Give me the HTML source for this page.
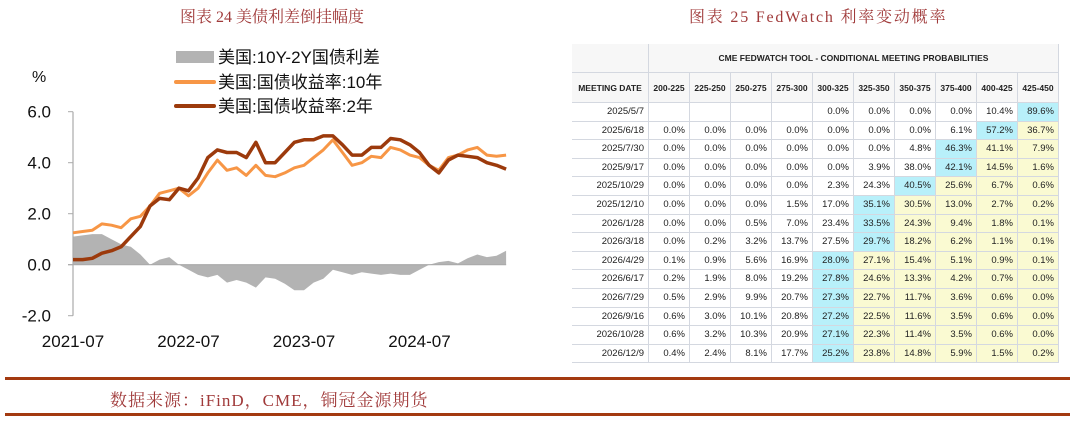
<!DOCTYPE html>
<html><head><meta charset="utf-8"><style>
body{margin:0;width:1076px;height:423px;background:#fff;position:relative;overflow:hidden;font-family:"Liberation Sans","Noto Sans CJK SC",sans-serif}
.title{position:absolute;top:4px;font-family:"Liberation Serif","Noto Serif CJK SC",serif;font-size:16px;color:#a03a3a;white-space:nowrap}
#tbl{position:absolute;left:572px;top:44px}
.c{position:absolute;box-sizing:border-box;border-right:1px solid #d4d8e0;border-bottom:1px solid #d4d8e0;font-size:9.5px;color:#222;text-align:right;padding-right:4px;line-height:18px;white-space:nowrap}
.h{font-weight:bold;font-size:8.5px;text-align:center;padding:0}
.rule{position:absolute;left:5px;width:1065px;height:3px;background:#a33a10}
.src{position:absolute;left:110px;top:386px;font-family:"Liberation Serif","Noto Serif CJK SC",serif;font-size:17px;letter-spacing:1px;color:#a03a3a;white-space:nowrap}
</style></head><body>
<div class="title" style="left:180px">图表 24 美债利差倒挂幅度</div>
<div class="title" style="left:689px;letter-spacing:1.8px">图表 25 FedWatch 利率变动概率</div>
<svg id="chart" width="545" height="370" style="position:absolute;left:0;top:0"></svg>
<div id="tbl"></div>
<div class="rule" style="top:377px"></div>
<div class="src">数据来源：iFinD，CME，铜冠金源期货</div>
<div class="rule" style="top:413px"></div>
<script>
const months=["2021-07","2021-08","2021-09","2021-10","2021-11","2021-12","2022-01","2022-02","2022-03","2022-04","2022-05","2022-06","2022-07","2022-08","2022-09","2022-10","2022-11","2022-12","2023-01","2023-02","2023-03","2023-04","2023-05","2023-06","2023-07","2023-08","2023-09","2023-10","2023-11","2023-12","2024-01","2024-02","2024-03","2024-04","2024-05","2024-06","2024-07","2024-08","2024-09","2024-10","2024-11","2024-12","2025-01","2025-02","2025-03","2025-04"];
const y10=[1.25,1.3,1.35,1.6,1.55,1.45,1.8,1.9,2.3,2.8,2.9,3.0,2.7,3.0,3.6,4.1,3.7,3.8,3.5,3.9,3.5,3.45,3.6,3.8,3.9,4.2,4.5,4.9,4.4,3.9,4.0,4.25,4.2,4.6,4.5,4.3,4.2,3.9,3.7,4.2,4.3,4.5,4.6,4.3,4.25,4.3];
const y2=[0.2,0.2,0.25,0.45,0.55,0.7,1.1,1.5,2.3,2.6,2.55,3.0,2.9,3.4,4.2,4.5,4.4,4.4,4.2,4.8,4.0,4.0,4.4,4.8,4.9,4.9,5.05,5.05,4.7,4.3,4.3,4.6,4.6,4.95,4.9,4.7,4.4,3.9,3.6,4.1,4.3,4.25,4.2,4.0,3.9,3.75];
const spread=[1.1,1.15,1.2,1.2,1.0,0.8,0.7,0.4,0.0,0.2,0.3,0.0,-0.2,-0.4,-0.5,-0.4,-0.7,-0.6,-0.7,-0.9,-0.5,-0.55,-0.75,-1.0,-1.0,-0.7,-0.55,-0.2,-0.3,-0.4,-0.3,-0.35,-0.4,-0.35,-0.4,-0.4,-0.2,0.0,0.1,0.15,0.05,0.25,0.4,0.3,0.35,0.55];
const yTicks=[6,4,2,0,-2];
const xLabels=["2021-07","2022-07","2023-07","2024-07"];
const NS="http://www.w3.org/2000/svg";
const svg=document.getElementById('chart');
const X0=73,XW=115.5/12;
const xs=i=>X0+i*XW;
const ys=v=>264.7-v*25.5;
function el(t,a){const e=document.createElementNS(NS,t);for(const k in a)e.setAttribute(k,a[k]);svg.appendChild(e);return e;}
let d=`M${xs(0)},${ys(0)}`;spread.forEach((v,i)=>d+=`L${xs(i).toFixed(1)},${ys(v).toFixed(1)}`);d+=`L${xs(spread.length-1)},${ys(0)}Z`;
const area=el('path',{d,fill:'#b3b3b3'});


const ax=el('path',{d:`M${X0},${ys(6)}V${ys(-2)}M${X0-5},${ys(0)}H${xs(spread.length-1)}`,stroke:'#aaa','stroke-width':1.2,fill:'none'});


yTicks.forEach(v=>{
 el('line',{x1:X0-5,x2:X0,y1:ys(v),y2:ys(v),stroke:'#aaa'});
 const t=el('text',{x:X0-22,y:ys(v)+6,'font-size':17,'text-anchor':'end',fill:'#111'});t.textContent=v.toFixed(1);
 
 
});
xLabels.forEach(l=>{
 const i=months.indexOf(l);
 const t=el('text',{x:xs(i),y:347,'font-size':17,'text-anchor':'middle',fill:'#111'});t.textContent=l;
 
 
});
const pct=el('text',{x:32,y:82,'font-size':16,fill:'#111'});pct.textContent='%';


function line(arr,c,w,name){
 const p=el('polyline',{points:arr.map((v,i)=>xs(i).toFixed(1)+','+ys(v).toFixed(1)).join(' '),fill:'none',stroke:c,'stroke-width':w,'stroke-linejoin':'round'});
 
 
}
line(y10,'#f79646',3,'yield-10y-line');
line(y2,'#9c3a0c',3.5,'yield-2y-line');
const lg=[['rect','#b3b3b3','美国:10Y-2Y国债利差',57],['line','#f79646','美国:国债收益率:10年',82],['line','#9c3a0c','美国:国债收益率:2年',106]];
lg.forEach(([k,c,txt,y])=>{
 if(k==='rect')el('rect',{x:176,y:y-6,width:38,height:12,fill:c});
 else el('line',{x1:176,x2:214,y1:y,y2:y,stroke:c,'stroke-width':4,'stroke-linecap':'round'});
 const t=el('text',{x:218,y:y+6,'font-size':17,fill:'#111'});t.textContent=txt;
 
 
});
const rates=["200-225","225-250","250-275","275-300","300-325","325-350","350-375","375-400","400-425","425-450"];
const dates=["2025/5/7","2025/6/18","2025/7/30","2025/9/17","2025/10/29","2025/12/10","2026/1/28","2026/3/18","2026/4/29","2026/6/17","2026/7/29","2026/9/16","2026/10/28","2026/12/9"];
const probs=[
[null,null,null,null,0.0,0.0,0.0,0.0,10.4,89.6],
[0,0,0,0,0,0,0,6.1,57.2,36.7],
[0,0,0,0,0,0,4.8,46.3,41.1,7.9],
[0,0,0,0,0,3.9,38.0,42.1,14.5,1.6],
[0,0,0,0,2.3,24.3,40.5,25.6,6.7,0.6],
[0,0,0,1.5,17.0,35.1,30.5,13.0,2.7,0.2],
[0,0,0.5,7.0,23.4,33.5,24.3,9.4,1.8,0.1],
[0,0.2,3.2,13.7,27.5,29.7,18.2,6.2,1.1,0.1],
[0.1,0.9,5.6,16.9,28.0,27.1,15.4,5.1,0.9,0.1],
[0.2,1.9,8.0,19.2,27.8,24.6,13.3,4.2,0.7,0.0],
[0.5,2.9,9.9,20.7,27.3,22.7,11.7,3.6,0.6,0.0],
[0.6,3.0,10.1,20.8,27.2,22.5,11.6,3.5,0.6,0.0],
[0.6,3.2,10.3,20.9,27.1,22.3,11.4,3.5,0.6,0.0],
[0.4,2.4,8.1,17.7,25.2,23.8,14.8,5.9,1.5,0.2]];
const tbl=document.getElementById('tbl');
function cell(x,y,w,h,txt,cls,bg,name){
 const c=document.createElement('div');c.className='c '+(cls||'');
 c.style.cssText=`left:${x}px;top:${y}px;width:${w}px;height:${h}px;line-height:${h}px;background:${bg||'#fff'}`;
 c.textContent=txt;
 
 
 tbl.appendChild(c);
}
const DW=77,CW=41,H1=29,H2=30,RH=18.6;
cell(0,0,DW,H1,'','h','#f7f7f7','corner-cell');
cell(DW,0,CW*10,H1,'CME FEDWATCH TOOL - CONDITIONAL MEETING PROBABILITIES','h','#f7f7f7','table-header');
cell(0,H1,DW,H2,'MEETING DATE','h','#f7f7f7','date-header');
rates.forEach((r,j)=>cell(DW+j*CW,H1,CW,H2,r,'h','#f7f7f7','rate-header'));
probs.forEach((row,i)=>{
 const y=H1+H2+i*RH;
 cell(0,y,DW,RH,dates[i],'','#fff','meeting-date');
 let mx=0;row.forEach((v,j)=>{if(v!==null&&v>row[mx])mx=j;});
 row.forEach((v,j)=>{
  const bg=j===mx?'#b8f0fa':(j>mx?'#fafad2':'#fff');
  cell(DW+j*CW,y,CW,RH,v===null?'':v.toFixed(1)+'%','',bg,'probability-cell');
 });
});
</script>
</body></html>
